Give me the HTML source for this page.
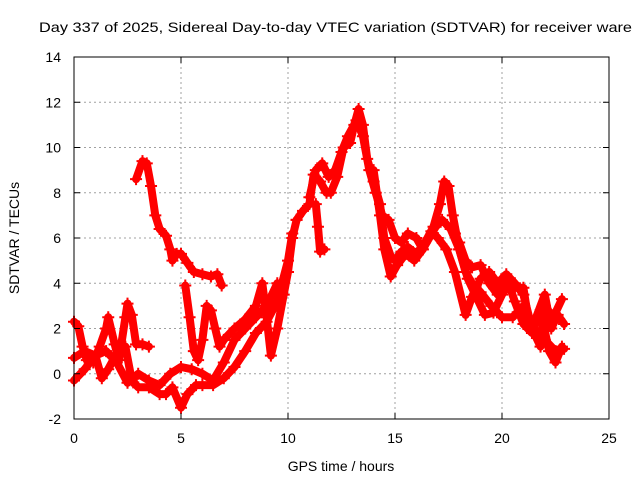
<!DOCTYPE html>
<html><head><meta charset="utf-8"><style>
html,body{margin:0;padding:0;background:#fff;}
svg{display:block;font-family:"Liberation Sans",sans-serif;}
</style></head><body>
<svg id="chart" width="640" height="480" viewBox="0 0 640 480">
<text x="39" y="32" font-size="14" textLength="593" lengthAdjust="spacingAndGlyphs">Day 337 of 2025, Sidereal Day-to-day VTEC variation (SDTVAR) for receiver ware</text>
<g id="grid"></g>
<g id="series"></g>
<rect x="74" y="57" width="535" height="362" fill="none" stroke="#000" stroke-width="1"/>
<g id="ticks"></g>
<text x="341" y="471" font-size="14" text-anchor="middle">GPS time / hours</text>
<text transform="translate(19,238) rotate(-90)" font-size="14" text-anchor="middle">SDTVAR / TECUs</text>
</svg>
<script>
const xTicks=[0,5,10,15,20,25];
const yTicks=[-2,0,2,4,6,8,10,12,14];
const trackA=[[2.9,8.6],[3.2,9.4],[3.4,9.3],[3.6,8.3],[3.8,7.0],[4.0,6.4],[4.3,6.1],[4.5,5.5],[4.6,5.0],[4.8,5.3],[5.0,5.3],[5.3,4.9],[5.6,4.5],[6.0,4.4],[6.4,4.3],[6.7,4.4],[6.9,3.9]];
const trackB=[[0,2.3],[0.2,2.1],[0.4,1.2],[0.6,0.6],[0.9,0.5],[1.2,1.2],[1.5,2.0],[1.6,2.5],[1.9,1.3],[2.1,0.6],[2.4,2.5],[2.5,3.1],[2.7,2.6],[2.9,1.3],[3.2,1.3],[3.5,1.2]];
const trackC=[[0,0.7],[0.5,1.0],[1.0,0.8],[1.3,-0.2],[1.6,0.2],[2.0,0.9],[2.4,1.2],[2.7,-0.3],[3.0,-0.6],[3.5,-0.6],[4.0,-0.9],[4.3,-0.9],[4.6,-0.6],[5.0,-1.5],[5.3,-0.9],[5.7,-0.5],[6.0,-0.5],[6.5,-0.5],[7.0,-0.2],[7.5,0.3],[8.0,1.0],[8.5,1.8],[9.0,2.3],[9.5,3.2],[10.0,5.0],[10.2,6.2]];
const trackD=[[0,-0.3],[0.5,0.2],[1.0,0.8],[1.5,1.0],[2.0,0.5],[2.5,-0.4],[3.0,0],[3.5,-0.3],[4.0,-0.5],[4.5,0.0],[5.0,0.3],[5.5,0.2],[6.0,0.0],[6.5,-0.3],[7.0,0.5],[7.5,1.5],[8.0,2.0],[8.5,2.5],[9.0,3.0],[9.5,4.0]];
const trackE=[[5.2,3.9],[5.4,2.5],[5.6,1.0],[5.8,0.6],[6.0,1.5],[6.2,3.0],[6.4,2.8],[6.6,2.0],[6.8,1.2],[7.0,1.5],[7.5,2.0],[8.0,2.4],[8.5,3.0],[8.8,4.0],[9.0,2.5],[9.2,0.8],[9.5,2.0],[9.8,3.5],[10.0,4.5],[10.2,6.0],[10.4,6.8]];
const trackF=[[10.4,6.8],[10.7,7.2],[11.0,7.5],[11.2,8.8],[11.5,8.5],[11.8,8.0],[12.0,8.0],[12.3,8.7],[12.6,10.0],[12.9,10.2],[13.1,11.0],[13.3,11.7],[13.5,11.0],[13.7,9.5],[14.0,8.5],[14.3,7.5],[14.5,6.0],[14.8,5.2],[15.0,5.0],[15.3,5.4],[15.6,5.6],[16.0,5.3],[16.4,5.8],[16.8,6.5],[17.1,7.5],[17.3,8.5],[17.5,8.3],[17.7,7.0],[18.0,5.5],[18.3,4.5],[18.6,4.0],[19.0,3.6],[19.5,3.0],[20.0,2.5],[20.5,2.5],[21.0,3.0],[21.5,2.0],[22.0,1.5],[22.5,1.0],[22.9,1.1]];
const trackG=[[11.0,7.8],[11.3,9.0],[11.6,9.3],[11.9,8.7],[12.2,9.0],[12.5,9.8],[12.8,10.5],[13.2,11.2],[13.5,10.5],[13.8,9.0],[14.1,8.0],[14.4,7.0],[14.7,6.8],[15.0,6.0],[15.3,5.8],[15.6,6.2],[16.0,6.0],[16.3,5.5],[16.6,6.0],[16.9,6.5],[17.2,6.8],[17.6,6.4],[18.0,5.5],[18.4,4.2],[18.8,3.4],[19.2,2.6],[19.6,2.7],[20.0,3.5],[20.3,4.0],[20.6,3.2],[21.0,2.2],[21.4,1.8],[21.8,2.8],[22.2,1.0],[22.5,0.5],[22.8,1.2]];
const trackH=[[14.0,9.0],[14.3,7.0],[14.5,5.5],[14.8,4.3],[15.1,4.8],[15.5,5.3],[15.9,5.0],[16.3,5.5],[16.7,6.3],[17.0,6.0],[17.4,5.5],[17.8,4.5],[18.3,2.6],[18.6,3.4],[19.0,4.2],[19.4,4.5],[19.8,4.0],[20.2,4.4],[20.6,4.0],[21.0,3.5],[21.4,2.0],[21.8,1.2],[22.0,3.0],[22.4,2.5],[22.8,3.3]];
const trackI=[[17.8,6.2],[18.0,5.8],[18.3,5.0],[18.6,4.7],[19.0,4.8],[19.4,4.0],[19.8,3.5],[20.2,4.0],[20.6,3.8],[21.0,3.8],[21.3,2.0],[21.6,2.5],[22.0,3.5],[22.3,2.0],[22.6,2.6],[22.9,2.2]];
const trackJ=[[11.3,7.5],[11.4,6.5],[11.5,5.4],[11.7,5.5]];
const tracks=[trackA,trackB,trackC,trackD,trackE,trackF,trackG,trackH,trackI,trackJ];

const X0=74,X1=609,Y0=419,Y1=57;
function sx(v){return X0+(v-0)/(25-0)*(X1-X0);}
function sy(v){return Y0-(v-(-2))/(14-(-2))*(Y0-Y1);}
const NS='http://www.w3.org/2000/svg';
function mk(tag,attrs,parent){const e=document.createElementNS(NS,tag);for(const k in attrs)e.setAttribute(k,attrs[k]);parent.appendChild(e);return e;}
const grid=document.getElementById('grid'),ticks=document.getElementById('ticks'),series=document.getElementById('series');
xTicks.forEach(t=>{
  const x=sx(t);
  if(t>0&&t<25){const g=mk('line',{x1:x,x2:x,y1:Y1,y2:Y0,stroke:'#a0a0a0','stroke-dasharray':'2,3','stroke-width':1},grid);
  
  }
  const a=mk('line',{x1:x,x2:x,y1:Y0,y2:Y0-6,stroke:'#000'},ticks);
  
  
  const b=mk('line',{x1:x,x2:x,y1:Y1,y2:Y1+6,stroke:'#000'},ticks);
  
  
  const l=mk('text',{x:x,y:Y0+24,'font-size':14,'text-anchor':'middle'},ticks);
  l.textContent=t;
  
  
});
yTicks.forEach(t=>{
  const y=sy(t);
  if(t>-2&&t<14){const g=mk('line',{x1:X0,x2:X1,y1:y,y2:y,stroke:'#a0a0a0','stroke-dasharray':'2,3','stroke-width':1},grid);
  
  }
  const a=mk('line',{x1:X0,x2:X0+6,y1:y,y2:y,stroke:'#000'},ticks);
  
  
  const b=mk('line',{x1:X1,x2:X1-6,y1:y,y2:y,stroke:'#000'},ticks);
  
  
  const l=mk('text',{x:X0-13,y:y+5,'font-size':14,'text-anchor':'end'},ticks);
  l.textContent=t;
  
  
});
tracks.forEach((tr,i)=>{
  const d=tr.map((p,j)=>(j?'L':'M')+sx(p[0]).toFixed(1)+' '+sy(p[1]).toFixed(1)).join(' ');
  const path=mk('path',{d:d,fill:'none',stroke:'#ff0000','stroke-width':8,'stroke-linejoin':'round','stroke-linecap':'round'},series);
  
  
  tr.forEach(p=>{
    const x=sx(p[0]),y=sy(p[1]);
    const m=mk('path',{d:`M${x-6} ${y}H${x+6}M${x} ${y-6}V${y+6}`,stroke:'#ff0000','stroke-width':2},series);
    
    
  });
});
</script>
</body></html>
